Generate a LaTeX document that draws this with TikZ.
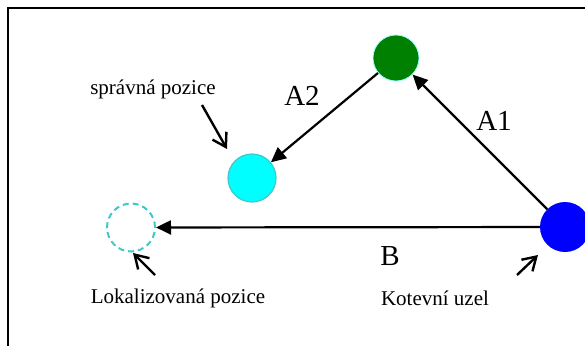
\documentclass[tikz,border=0pt]{standalone}
\usepackage{fontspec}
\setmainfont{Liberation Serif}
\newfontfamily\labelfont{Liberation Serif}
\usetikzlibrary{arrows.meta}
\definecolor{dotgreen}{HTML}{008000}
\definecolor{dotcyan}{HTML}{00FFFF}
\definecolor{rimcyan}{HTML}{40C8C8}
\tikzset{
  x=1pt, y=-1pt,
  dot/.style={circle, inner sep=0pt, minimum size=48pt},
  vec/.style={line width=2.2pt, -{Triangle[length=15pt,width=14pt]}},
  pointer/.style={line width=2.4pt, -{Straight Barb[length=13pt,width=16pt]}},
  big/.style={font=\labelfont\fontsize{29}{31}\selectfont},
  note/.style={font=\labelfont\fontsize{21}{23}\selectfont}
}
\begin{document}
\begin{tikzpicture}
\useasboundingbox (0,0) rectangle (585,345);
% frame
\draw[line width=2.4pt] (8,350) -- (8,8) -- (590,8);
% nodes
\node[dot, fill=dotgreen, draw=dotcyan!40, line width=0.8pt, minimum size=46pt] (anchor2) at (396,58) {};
\node[dot, fill=dotcyan, draw=rimcyan, line width=1.2pt] (true) at (252,178) {};
\node[dot, draw=rimcyan, dashed, dash pattern=on 6pt off 4pt, line width=2pt] (est) at (131,227.5) {};
\node[dot, fill=blue, minimum size=50pt] (anchor1) at (565,227) {};
% vectors
\draw[vec] (anchor1) -- (anchor2);
\draw[vec] (anchor2) -- (true);
\draw[vec] (anchor1) -- (est);
% vector labels
\node[big] (la1) at (494,121) {A1};
\node[big] (la2) at (302,96) {A2};
\node[big] (lb) at (390,256) {B};
% captions
\node[note] (ctrue) at (153,89) {správná pozice};
\node[note] (cest) at (178,298) {Lokalizovaná pozice};
\node[note] (canc) at (435,298) {Kotevní uzel};
% pointers
\coordinate (p1s) at (202,105);
\coordinate (p1e) at (227,149);
\coordinate (p2s) at (155,275);
\coordinate (p2e) at (133,253);
\coordinate (p3s) at (517,275);
\coordinate (p3e) at (538,255);
\draw[pointer] (p1s) -- (p1e);
\draw[pointer] (p2s) -- (p2e);
\draw[pointer] (p3s) -- (p3e);
\end{tikzpicture}
\end{document}
